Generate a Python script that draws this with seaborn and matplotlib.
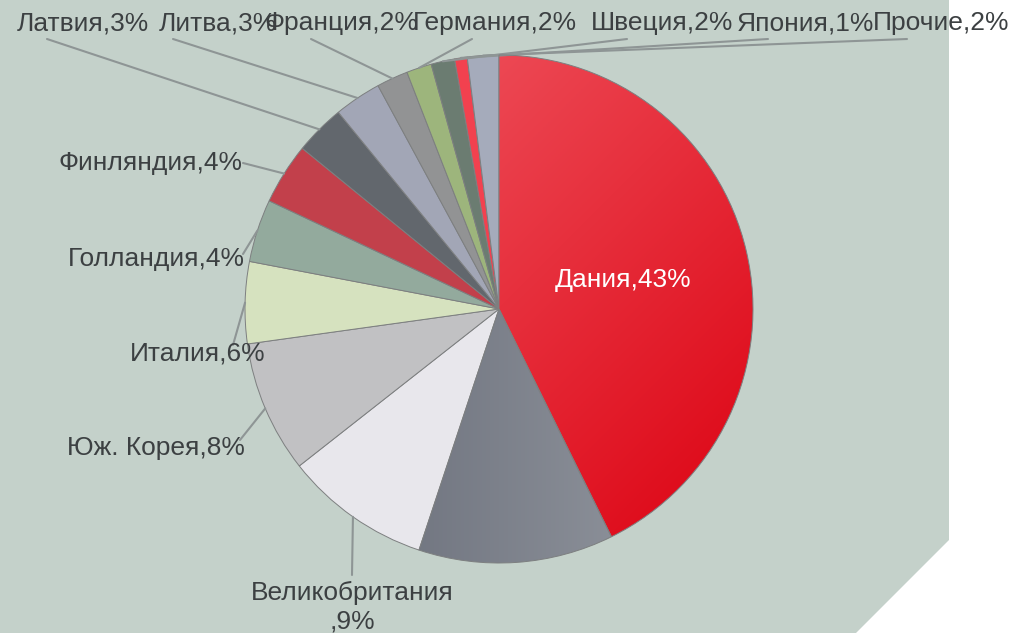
import numpy as np
import matplotlib.pyplot as plt
import seaborn as sns
from matplotlib.patches import Polygon
from matplotlib.colors import LinearSegmentedColormap

# slices clockwise from 12 o'clock
countries = ["Дания", "", "Великобритания", "Юж. Корея", "Италия", "Голландия",
             "Финляндия", "Латвия", "Литва", "Франция", "Германия", "Швеция",
             "Япония", "Прочие"]
shares = [42.7, 12.4, 9.3, 8.4, 5.2, 4.0, 3.9, 3.2, 3.0, 2.0, 1.6, 1.5, 0.8, 2.0]
label_pct = [43, None, 9, 8, 6, 4, 4, 3, 3, 2, 2, 2, 1, 2]
slice_colors = ["#ec3a47", "#7c818c", "#e8e7ec", "#c1c1c3", "#d6e2bf", "#93aa9d",
                "#c2404b", "#62676d", "#a2a6b6", "#929394", "#9db57c", "#6b7c71",
                "#f2414f", "#a5abbb"]

sns.set_style("white")
plt.rcParams["font.family"] = ["Liberation Sans", "DejaVu Sans"]

W, H = 1014, 633
fig = plt.figure(figsize=(W / 100, H / 100), dpi=100)
ax = fig.add_axes([0, 0, 1, 1])
ax.set_axis_off()

# background panel with the cut corner
ax.add_patch(Polygon([(0, 0), (949, 0), (949, 540), (856, H), (0, H)],
                     closed=True, facecolor="#c4d1ca", edgecolor="none", zorder=0))

cx, cy, r = 499, 309, 254
palette = sns.color_palette(slice_colors)
# y axis is inverted below, so counterclock=True runs clockwise on screen
wedges, _ = ax.pie(shares, colors=palette, startangle=-90, counterclock=True,
                   center=(cx, cy), radius=r, frame=True,
                   wedgeprops=dict(edgecolor="#7d7f80", linewidth=0.7))


def shade(wedge, c1, c2, horizontal=False):
    xs = np.linspace(0, 1, 200)
    gx, gy = np.meshgrid(xs, xs)
    g = gx if horizontal else (gx + gy) / 2
    cmap = LinearSegmentedColormap.from_list("g", [c1, c2])
    im = ax.imshow(g, cmap=cmap, extent=(cx - r, cx + r, cy + r, cy - r),
                   origin="upper", zorder=wedge.get_zorder(), interpolation="bilinear")
    im.set_clip_path(wedge)
    wedge.set_facecolor("none")
    wedge.set_zorder(wedge.get_zorder() + 0.1)


shade(wedges[0], "#f2606a", "#dc0010")
shade(wedges[1], "#5f6470", "#9a9ea6", horizontal=True)

ax.set_xlim(0, W)
ax.set_ylim(H, 0)
ax.set_aspect("equal")

FS = 19
txt = dict(fontsize=FS, color="#3c4042")
line_kw = dict(color="#8e9595", lw=1.5, zorder=1)

# label anchor (image pixels): text x, text y, alignment, leader start
label_pos = {
    "Латвия": (17, 23, "left", (47, 39)),
    "Литва": (159, 23, "left", (173, 39)),
    "Франция": (264, 23, "left", (311, 39)),
    "Германия": (413, 23, "left", (472, 39)),
    "Швеция": (591, 23, "left", (627, 39)),
    "Япония": (737, 23, "left", (768, 39)),
    "Прочие": (873, 23, "left", (907, 39)),
    "Финляндия": (243, 163, "right", (243, 163)),
    "Голландия": (245, 259, "right", (243, 254)),
    "Италия": (266, 354, "right", (233, 345)),
    "Юж. Корея": (245, 448, "right", (240, 440)),
}

for w, name, pct in zip(wedges, countries, label_pct):
    if not name:
        continue
    mid = np.deg2rad((w.theta1 + w.theta2) / 2)
    ex, ey = cx + r * np.cos(mid), cy + r * np.sin(mid)
    text = f"{name},{pct}%"
    if name == "Дания":
        ax.text(623, 280, text, ha="center", va="center", fontsize=FS,
                color="white", zorder=5)
    elif name == "Великобритания":
        ax.plot([352, ex], [575, ey], **line_kw)
        ax.text(352, 593, name, ha="center", va="center", **txt)
        ax.text(352, 622, f",{pct}%", ha="center", va="center", **txt)
    else:
        tx, ty, ha, (lx, ly) = label_pos[name]
        ax.plot([lx, ex], [ly, ey], **line_kw)
        ax.text(tx, ty, text, ha=ha, va="center", zorder=6, **txt)

fig.savefig("out.png", dpi=100, facecolor="white")
